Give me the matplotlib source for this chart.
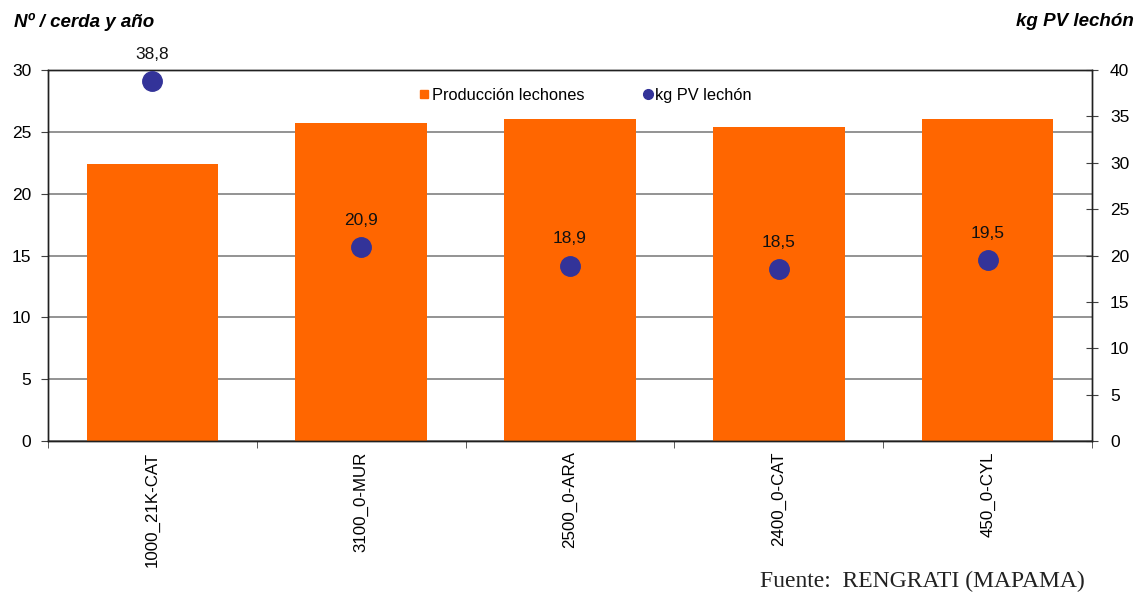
import matplotlib
matplotlib.use("Agg")
import matplotlib.pyplot as plt
from matplotlib.lines import Line2D
import numpy as np

plt.rcParams['font.family'] = ['Liberation Sans', 'DejaVu Sans']

categories = ["1000_21K-CAT", "3100_0-MUR", "2500_0-ARA", "2400_0-CAT", "450_0-CYL"]
produccion = [22.4, 25.7, 26.0, 25.4, 26.0]
kg_pv = [38.8, 20.9, 18.9, 18.5, 19.5]
kg_labels = ["38,8", "20,9", "18,9", "18,5", "19,5"]

bar_color = "#FF6600"
dot_color = "#333399"

fig = plt.figure(figsize=(11.38, 5.94), dpi=100)
ax = fig.add_axes([48/1138, 1-441/594, (1092-48)/1138, (441-70)/594])
x = np.arange(len(categories))

ax.bar(x, produccion, width=0.63, color=bar_color, zorder=2)
ax.set_xlim(-0.5, len(categories)-0.5)
ax.set_ylim(0, 30)
ax.set_yticks(np.arange(0, 31, 5))
ax.yaxis.grid(True, color="#808080", linewidth=1.2, zorder=0)
ax.set_axisbelow(True)
ax.set_xticks(x)
ax.set_xticklabels(categories, rotation=90, fontsize=12.2)
ax.set_xticks(np.arange(-0.5, len(categories), 1), minor=True)
ax.tick_params(axis='x', which='major', length=0, pad=7.5)
ax.tick_params(axis='x', which='minor', length=5, direction='out', color='#404040')
ax.tick_params(axis='y', labelsize=12.5, length=5, direction='out', color='#404040', pad=7)
for s in ax.spines.values():
    s.set_color('#202020')
    s.set_linewidth(1.0)

ax2 = ax.twinx()
ax2.set_ylim(0, 40)
ax2.set_yticks(np.arange(0, 41, 5))
ax2.tick_params(axis='y', labelsize=12.5, length=8, direction='inout', color='#404040', pad=9)
ax2.plot(x, kg_pv, linestyle='none', marker='o', markersize=14, color=dot_color, zorder=3)
for xi, v, lab in zip(x, kg_pv, kg_labels):
    ax2.annotate(lab, (xi, v), xytext=(0, 14), textcoords='offset points',
                 ha='center', va='bottom', fontsize=12.5, color='#111111')
for s in ax2.spines.values():
    s.set_color('#202020')
    s.set_linewidth(1.0)

handles = [
    Line2D([], [], linestyle='none', marker='s', markersize=6, color=bar_color),
    Line2D([], [], linestyle='none', marker='o', markersize=7, color=dot_color),
]
ax2.legend(handles, ["Producción lechones", "kg PV lechón"], loc='center',
           bbox_to_anchor=(0.515, 0.932), ncol=2, frameon=False, fontsize=11.8,
           handlelength=0.6, handletextpad=0.15, columnspacing=3.6)

fig.text(14/1138, 1-22/594, "Nº / cerda y año", fontsize=13.5, fontweight='bold',
         fontstyle='italic', ha='left', va='center')
fig.text(1134/1138, 1-22/594, "kg PV lechón", fontsize=13.5, fontweight='bold',
         fontstyle='italic', ha='right', va='center')
fig.text(1085/1138, 1-581/594, "Fuente:  RENGRATI (MAPAMA)", fontsize=17,
         family=['Liberation Serif', 'DejaVu Serif'], ha='right', va='center', color='#222222')

fig.savefig("out.png", dpi=100)
